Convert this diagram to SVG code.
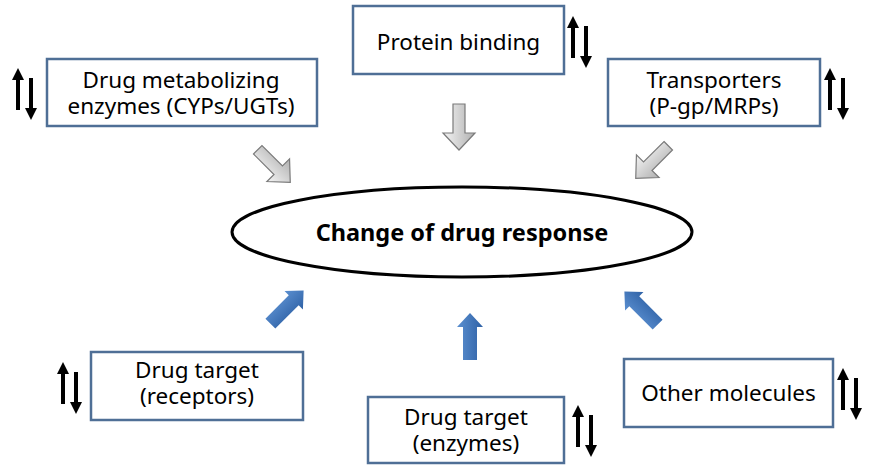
<svg xmlns="http://www.w3.org/2000/svg" width="876" height="475" viewBox="0 0 876 475">
<style>
.box{fill:#ffffff;stroke:#4f6f96;stroke-width:2.5}
.t{font-family:"Noto Sans","Open Sans",sans-serif;font-size:22.5px;fill:#000;text-anchor:middle}
.tb{font-family:"Noto Sans","Open Sans",sans-serif;font-size:23.5px;font-weight:bold;fill:#000;text-anchor:middle}
.ga{fill:url(#gg);stroke:#7a7a7a;stroke-width:1.2}
.ba{fill:url(#bg)}
.ud line{stroke:#000;stroke-width:4}
.ud polygon{fill:#000}
</style>
<defs>
<linearGradient id="gg" x1="0" y1="0" x2="1" y2="0">
<stop offset="0" stop-color="#f4f4f4"/>
<stop offset="1" stop-color="#b0b0b0"/>
</linearGradient>
<linearGradient id="bg" x1="0" y1="0" x2="1" y2="0">
<stop offset="0" stop-color="#5b8fd0"/>
<stop offset="1" stop-color="#2f62a6"/>
</linearGradient>
<path id="gar" d="M -6 -23 H 6 V 6 H 16 L 0 23 L -16 6 H -6 Z"/>
<path id="bar" d="M -7 23.5 V -9.5 H -13 L 0 -23.5 L 13 -9.5 H 7 V 23.5 Z"/>
<g id="udsym" class="ud">
<line x1="5" y1="8" x2="5" y2="42"/>
<polygon points="-1,12 5,0 11,12"/>
<line x1="18" y1="10" x2="18" y2="42"/>
<polygon points="12,40 18,52 24,40"/>
</g>
</defs>
<rect width="876" height="475" fill="#ffffff"/>

<g id="connectors">
<use href="#gar" class="ga" transform="translate(274,166) rotate(-45)"/>
<use href="#gar" class="ga" transform="translate(459,127)"/>
<use href="#gar" class="ga" transform="translate(652,162) rotate(45)"/>
<use href="#bar" class="ba" transform="translate(287,307) rotate(45)"/>
<use href="#bar" class="ba" transform="translate(470,336.5)"/>
<use href="#bar" class="ba" transform="translate(641,308) rotate(-45)"/>
</g>

<g id="center">
<ellipse cx="462" cy="232" rx="230" ry="45" fill="#ffffff" stroke="#000" stroke-width="3"/>
<text class="tb" x="462" y="241">Change of drug response</text>
</g>

<g id="metabolizing">
<rect class="box" x="47" y="59" width="270" height="67"/>
<text class="t" x="181" y="88">Drug metabolizing<tspan x="181" dy="26">enzymes (CYPs/UGTs)</tspan></text>
<use href="#udsym" transform="translate(13,68)"/>
</g>

<g id="protein">
<rect class="box" x="353" y="6" width="211" height="68"/>
<text class="t" x="458.5" y="50">Protein binding</text>
<use href="#udsym" transform="translate(568,16)"/>
</g>

<g id="transporters">
<rect class="box" x="608" y="59" width="212" height="67"/>
<text class="t" x="714" y="88">Transporters<tspan x="714" dy="26">(P-gp/MRPs)</tspan></text>
<use href="#udsym" transform="translate(825,68)"/>
</g>

<g id="receptors">
<rect class="box" x="91" y="352" width="212" height="68"/>
<text class="t" x="197" y="378">Drug target<tspan x="197" dy="26">(receptors)</tspan></text>
<use href="#udsym" transform="translate(58,362)"/>
</g>

<g id="enzymes">
<rect class="box" x="368" y="397" width="196" height="66"/>
<text class="t" x="466" y="425">Drug target<tspan x="466" dy="26">(enzymes)</tspan></text>
<use href="#udsym" transform="translate(573,405)"/>
</g>

<g id="other">
<rect class="box" x="624" y="359" width="209" height="68"/>
<text class="t" x="728.5" y="401">Other molecules</text>
<use href="#udsym" transform="translate(838,368)"/>
</g>
</svg>
